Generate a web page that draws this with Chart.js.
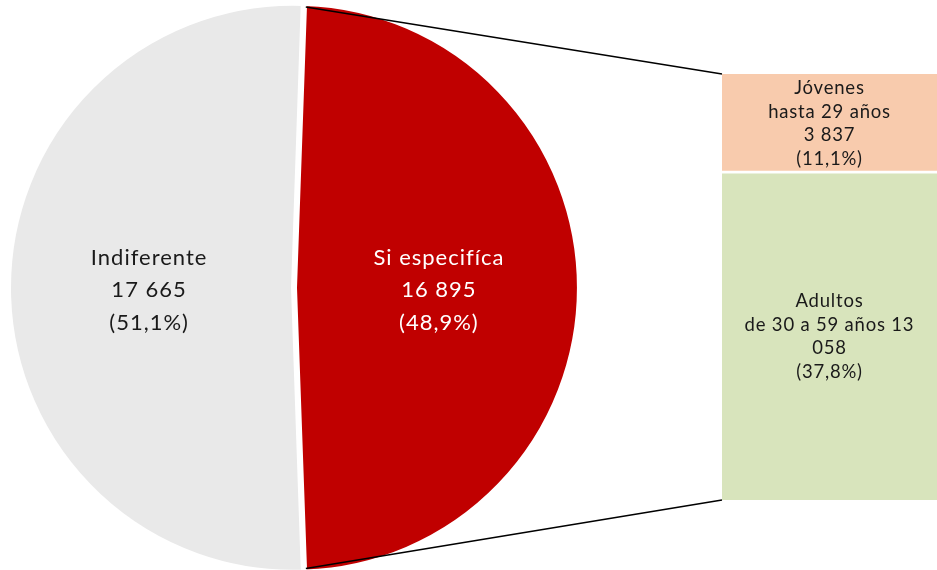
<!DOCTYPE html>
<html>
<head>
<meta charset="utf-8">
<script src="https://cdn.jsdelivr.net/npm/chart.js@4"></script>
<style>
  html, body { margin: 0; padding: 0; background: #ffffff; overflow: hidden; width: 937px; height: 570px; }
  #wrap { position: relative; width: 937px; height: 570px; }
  canvas { position: absolute; top: 0; }
  #pie { left: 0; }
  #bar { left: 722px; }
</style>
</head>
<body>
<div id="wrap">
  <canvas id="pie" width="937" height="570"></canvas>
  <canvas id="bar" width="215" height="570"></canvas>
</div>
<script>
// ---- Data ----
const pieCategories = ['Si especifíca', 'Indiferente'];
const pieValues = [16895, 17665];
const pieLabelLines = [
  ['Si especifíca', '16 895', '(48,9%)'],
  ['Indiferente', '17 665', '(51,1%)']
];
const barCategories = ['Adultos de 30 a 59 años', 'Jóvenes hasta 29 años'];
const barValues = [13058, 3837];
const barLabelLines = [
  ['Adultos', 'de 30 a 59 años 13', '058', '(37,8%)'],
  ['Jóvenes', 'hasta 29 años', '3 837', '(11,1%)']
];

const FONT = 'Lato, "Open Sans", "DejaVu Sans", sans-serif';

// ---- Bar (breakdown) chart ----
const barColors = ['#D8E4BC', '#F8CBAD'];
const barLabelPlugin = {
  id: 'barLabels',
  afterDatasetsDraw(chart) {
    const ctx = chart.ctx;
    ctx.save();
    ctx.font = '18.5px ' + FONT;
    ctx.letterSpacing = '0.8px';
    ctx.fillStyle = '#1a1a1a';
    ctx.textAlign = 'center';
    ctx.textBaseline = 'middle';
    chart.data.datasets.forEach((ds, i) => {
      const el = chart.getDatasetMeta(i).data[0];
      const cx = el.x;
      const cy = (el.y + el.base) / 2 + 1;
      const lines = barLabelLines[i];
      const lh = 23.5;
      const top = cy - (lines.length - 1) * lh / 2;
      lines.forEach((t, k) => ctx.fillText(t, cx, top + k * lh));
    });
    ctx.restore();
  }
};

const barChart = new Chart(document.getElementById('bar'), {
  type: 'bar',
  data: {
    labels: ['Si especifíca'],
    datasets: barCategories.map((c, i) => ({
      label: c,
      data: [barValues[i]],
      backgroundColor: barColors[i],
      borderColor: '#ffffff',
      borderWidth: i === 0 ? { top: 3, left: 0, right: 0, bottom: 0 } : 0,
      borderSkipped: 'start',
      barPercentage: 1,
      categoryPercentage: 1,
      stack: 's'
    }))
  },
  options: {
    responsive: false,
    animation: false,
    layout: { padding: { top: 74, bottom: 70, left: 0, right: 0 } },
    scales: {
      x: { stacked: true, display: false },
      y: { stacked: true, display: false, min: 0, max: barValues.reduce((a, b) => a + b, 0) }
    },
    plugins: { legend: { display: false }, tooltip: { enabled: false } }
  },
  plugins: [barLabelPlugin]
});

// ---- Pie chart ----
const pieColors = ['#C00000', '#E9E9E9'];
const pieTextColors = ['#ffffff', '#1a1a1a'];
const BAR_LEFT = 722;
const SLICE_OFFSET = 4;            // arcs are shifted by offset/2
const SHIFT = SLICE_OFFSET / 2;
const BORDER = 4;

const pieExtras = {
  id: 'pieExtras',
  afterDatasetsDraw(chart) {
    const ctx = chart.ctx;
    const meta = chart.getDatasetMeta(0);
    // connectors from the red slice to the bar
    const red = meta.data[0];
    const r = red.outerRadius - BORDER / 2;
    const midR = (red.startAngle + red.endAngle) / 2;
    const ox = red.x + SHIFT * Math.cos(midR);
    const oy = red.y + SHIFT * Math.sin(midR);
    const p1 = { x: ox + r * Math.cos(red.startAngle), y: oy + r * Math.sin(red.startAngle) };
    const p2 = { x: ox + r * Math.cos(red.endAngle), y: oy + r * Math.sin(red.endAngle) };
    const bm0 = barChart.getDatasetMeta(0).data[0];
    const bm1 = barChart.getDatasetMeta(1).data[0];
    const bx = BAR_LEFT + bm0.x - bm0.width / 2;
    const btop = bm1.y;
    const bbot = bm0.base;
    ctx.save();
    ctx.strokeStyle = '#000000';
    ctx.lineWidth = 1.5;
    ctx.beginPath();
    ctx.moveTo(p1.x, p1.y); ctx.lineTo(bx, btop);
    ctx.moveTo(p2.x, p2.y); ctx.lineTo(bx, bbot);
    ctx.stroke();
    // labels
    ctx.font = '22px ' + FONT;
    ctx.letterSpacing = '1px';
    ctx.textAlign = 'center';
    ctx.textBaseline = 'middle';
    meta.data.forEach((arc, i) => {
      const mid = (arc.startAngle + arc.endAngle) / 2;
      const rr = arc.outerRadius * 0.505 + SHIFT;
      const cx = arc.x + rr * Math.cos(mid);
      const cy = arc.y + rr * Math.sin(mid) + 2.5;
      const lines = pieLabelLines[i];
      const lh = 32.5;
      const top = cy - (lines.length - 1) * lh / 2;
      ctx.fillStyle = pieTextColors[i];
      lines.forEach((t, k) => ctx.fillText(t, cx, top + k * lh));
    });
    ctx.restore();
  }
};

new Chart(document.getElementById('pie'), {
  type: 'pie',
  data: {
    labels: pieCategories,
    datasets: [{
      data: pieValues,
      backgroundColor: pieColors,
      borderColor: '#ffffff',
      borderWidth: BORDER,
      offset: SLICE_OFFSET,
      radius: 283
    }]
  },
  options: {
    responsive: false,
    animation: false,
    rotation: 2,
    layout: { padding: { top: 5.5, bottom: 0, left: 13, right: 362 } },
    plugins: { legend: { display: false }, tooltip: { enabled: false } }
  },
  plugins: [pieExtras]
});
</script>
</body>
</html>
